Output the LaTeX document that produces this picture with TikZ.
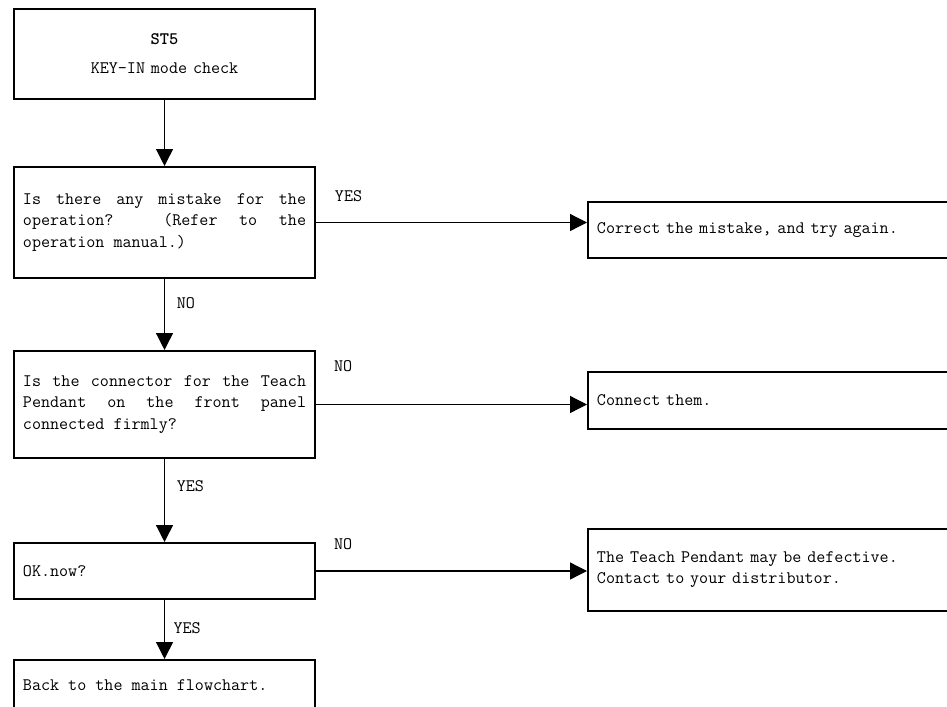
\documentclass[tikz,border=0pt]{standalone}
\usepackage{fontspec}
\usetikzlibrary{arrows.meta}
\newcommand{\flowtext}{\ttfamily\fontsize{12.5}{15}\selectfont
  \fontdimen3\font=4pt\fontdimen4\font=1pt}

\tikzset{
  chartbox/.style={draw,line width=1.4pt,rectangle,anchor=north west,
    inner xsep=0.225cm,inner ysep=0pt,font=\flowtext},
  leftbox/.style={chartbox,text width=7.075cm,align=justify},
  rightbox/.style={chartbox,text width=8.875cm,align=left},
  flowarrow/.style={line width=0.9pt,-{Triangle[length=0.42cm,width=0.42cm]}},
  branch/.style={font=\flowtext,inner sep=0pt}
}

\begin{document}
\begin{tikzpicture}[x=0.025cm,y=-0.025cm]
  \useasboundingbox (0,0) rectangle (947,706);
  \clip (0,0) rectangle (947,706);
  % left column
  \node[leftbox,align=center,minimum height=2.25cm] (st5) at (13,8)
    {\textbf{ST5}\\[0.2cm]KEY-IN mode check\par\vspace{0.25cm}};
  \node[leftbox,minimum height=2.775cm] (mistake) at (13,166)
    {Is there any mistake for the\linebreak operation? (Refer to the\linebreak
     operation manual.)\par\vspace{0.375cm}};
  \node[leftbox,minimum height=2.675cm] (connector) at (13,350)
    {Is the connector for the Teach\linebreak Pendant on the front panel\linebreak
     connected firmly?\par\vspace{0.475cm}};
  \node[leftbox,minimum height=1.4cm] (oknow) at (13,542) {OK.now?};
  \node[leftbox,minimum height=1.25cm] (back) at (13,659) {Back to the main flowchart.};
  % right column
  \node[rightbox,minimum height=1.4cm] (retry) at (587,201)
    {Correct the mistake, and try again.\par\vspace{0.2cm}};
  \node[rightbox,minimum height=1.425cm] (plugin) at (587,371) {Connect them.};
  \node[rightbox,minimum height=2.05cm] (dealer) at (587,528)
    {The Teach Pendant may be defective.\\Contact to your distributor.};
  % connectors
  \draw[flowarrow] (st5) -- (mistake);
  \draw[flowarrow] (mistake) -- node[branch,right=0.29cm,pos=0.34] {NO} (connector);
  \draw[flowarrow] (connector) -- node[branch,right=0.29cm,pos=0.33] {YES} (oknow);
  \draw[flowarrow] (oknow) -- node[branch,right=0.21cm,pos=0.47] {YES} (back);
  \draw[flowarrow] (mistake.east) -- node[branch,above=0.5cm,pos=0.12] {YES}
    (mistake.east -| retry.west);
  \draw[flowarrow] (connector.east) -- node[branch,above=0.8cm,pos=0.1] {NO}
    (connector.east -| plugin.west);
  \draw[flowarrow] (oknow.east) -- node[branch,above=0.525cm,pos=0.1] {NO}
    (oknow.east -| dealer.west);
\end{tikzpicture}
\end{document}
